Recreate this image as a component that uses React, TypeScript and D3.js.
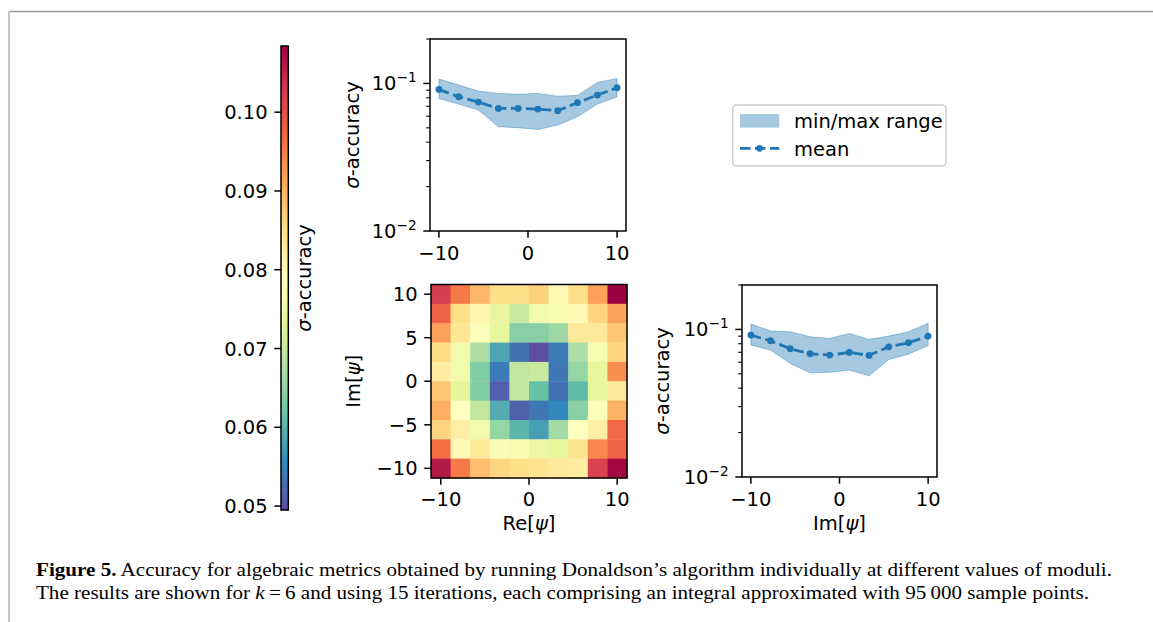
import * as d3 from 'd3';

// moduli grid used for both Re[psi] and Im[psi]
const psi = [-10, -7.78, -5.56, -3.33, -1.11, 1.11, 3.33, 5.56, 7.78, 10];

// sigma-accuracy against Re[psi] (top panel)
const reMean = [0.0911, 0.0812, 0.0747, 0.0677, 0.0677, 0.067, 0.0653, 0.074, 0.0834, 0.0935];
const reMax = [0.107, 0.0974, 0.0887, 0.0856, 0.0843, 0.0856, 0.082, 0.0829, 0.1016, 0.108];
const reMin = [0.0791, 0.0724, 0.066, 0.0509, 0.0501, 0.0488, 0.0522, 0.0595, 0.0724, 0.0812];

// sigma-accuracy against Im[psi] (bottom right panel)
const imMean = [0.0915, 0.0838, 0.074, 0.0684, 0.067, 0.0698, 0.0667, 0.0762, 0.0812, 0.0901];
const imMax = [0.1087, 0.0974, 0.0964, 0.0892, 0.0869, 0.0939, 0.0855, 0.0901, 0.0964, 0.11];
const imMin = [0.0783, 0.0724, 0.0588, 0.0508, 0.0513, 0.053, 0.0485, 0.0625, 0.068, 0.0779];

// heatmap rows, top row is Im = 10, bottom row is Im = -10; columns Re = -10 .. 10
const heatRows = [
  [0.1025, 0.0954, 0.0896, 0.0848, 0.0848, 0.0866, 0.0801, 0.0848, 0.0919, 0.1084],
  [0.0978, 0.0848, 0.0807, 0.0742, 0.0701, 0.076, 0.0766, 0.0801, 0.086, 0.0919],
  [0.0919, 0.0837, 0.0784, 0.0736, 0.0642, 0.0642, 0.066, 0.0831, 0.0831, 0.0878],
  [0.0854, 0.076, 0.0672, 0.0583, 0.053, 0.0495, 0.0542, 0.0672, 0.0766, 0.086],
  [0.0825, 0.076, 0.0636, 0.0542, 0.0695, 0.0701, 0.0536, 0.0654, 0.0736, 0.0937],
  [0.0878, 0.0731, 0.0636, 0.0513, 0.0695, 0.0613, 0.053, 0.0607, 0.0736, 0.0831],
  [0.0907, 0.079, 0.0695, 0.0589, 0.0513, 0.0536, 0.0554, 0.0642, 0.0784, 0.0901],
  [0.086, 0.0819, 0.076, 0.0654, 0.0601, 0.0577, 0.0666, 0.079, 0.0819, 0.0972],
  [0.0966, 0.0801, 0.0831, 0.0778, 0.0772, 0.0748, 0.0736, 0.0843, 0.0943, 0.0978],
  [0.106, 0.0954, 0.089, 0.086, 0.0848, 0.0843, 0.0831, 0.0825, 0.1019, 0.1078],
];

const colourRange = [0.0495, 0.1084];
const colourbarTicks = [0.05, 0.06, 0.07, 0.08, 0.09, 0.1];
const linearTicks = [-10, 0, 10];
const heatYTicks = [-10, -5, 0, 5, 10];
const logMajor = [0.01, 0.1];
const logMinor = [0.02, 0.03, 0.04, 0.05, 0.06, 0.07, 0.08, 0.09, 0.2];

const FONT = 'DejaVu Sans';
const FS = 19.5;
const BLUE = '#1f77b4';
const TICK = 6.7;

// matplotlib Spectral_r: linear through the brewer colours
const spectral = d3.schemeSpectral[11].slice().reverse();
const colour = d3.scaleLinear<string>()
  .domain(d3.range(11).map(i => colourRange[0] + (i / 10) * (colourRange[1] - colourRange[0])))
  .range(spectral)
  .interpolate(d3.interpolateRgb)
  .clamp(true);

const fmtMinus = (v: number) => (v < 0 ? '\u2212' + Math.abs(v) : String(v));

function LogLabel({ x, y, exp }: { x: number; y: number; exp: number }) {
  return (
    <text x={x} y={y + 7} textAnchor="end" fontSize={FS} fontFamily={FONT}>
      10
      <tspan fontSize={FS * 0.7} dy={-8}>{'\u2212' + Math.abs(exp)}</tspan>
    </text>
  );
}

function LinePanel({
  left, top, right, bottom, mean, lo, hi, yLabelX, xLabel,
}: {
  left: number; top: number; right: number; bottom: number;
  mean: number[]; lo: number[]; hi: number[];
  yLabelX: number; xLabel?: string;
}) {
  const x = d3.scaleLinear().domain([-11, 11]).range([left, right]);
  const y = d3.scaleLog().domain([0.01, 0.2]).range([bottom, top]);
  const idx = d3.range(psi.length);
  const area = d3.area<number>()
    .x(i => x(psi[i]))
    .y0(i => y(lo[i]))
    .y1(i => y(hi[i]));
  const line = d3.line<number>()
    .x(i => x(psi[i]))
    .y(i => y(mean[i]));

  return (
    <g>
      <path d={area(idx) || ''} fill={BLUE} fillOpacity={0.4} stroke={BLUE} strokeOpacity={0.4} strokeWidth={1} />
      <path d={line(idx) || ''} fill="none" stroke={BLUE} strokeWidth={2.8} strokeDasharray="10.5 4.5" />
      {idx.map(i => (
        <circle key={i} cx={x(psi[i])} cy={y(mean[i])} r={3.4} fill={BLUE} />
      ))}
      <rect x={left} y={top} width={right - left} height={bottom - top} fill="none" stroke="black" strokeWidth={1.5} />
      {linearTicks.map(t => (
        <g key={t}>
          <line x1={x(t)} x2={x(t)} y1={bottom} y2={bottom + TICK} stroke="black" strokeWidth={1.5} />
          <text x={x(t)} y={bottom + 29} textAnchor="middle" fontSize={FS} fontFamily={FONT}>{fmtMinus(t)}</text>
        </g>
      ))}
      {logMajor.map(t => (
        <g key={t}>
          <line x1={left - TICK} x2={left} y1={y(t)} y2={y(t)} stroke="black" strokeWidth={1.5} />
          <LogLabel x={left - 13.4} y={y(t)} exp={Math.round(Math.log10(t))} />
        </g>
      ))}
      {logMinor.map(t => (
        <line key={t} x1={left - 3.8} x2={left} y1={y(t)} y2={y(t)} stroke="black" strokeWidth={1.1} />
      ))}
      <text
        transform={`translate(${yLabelX},${(top + bottom) / 2}) rotate(-90)`}
        textAnchor="middle" fontSize={FS} fontFamily={FONT}
      >
        <tspan fontStyle="italic">σ</tspan>-accuracy
      </text>
      {xLabel && (
        <text x={(left + right) / 2} y={bottom + 53} textAnchor="middle" fontSize={FS} fontFamily={FONT}>
          {xLabel}[<tspan fontStyle="italic">ψ</tspan>]
        </text>
      )}
    </g>
  );
}

function Heatmap() {
  const left = 431, right = 627, top = 284.5, bottom = 478;
  const half = 10 / 9;
  const x = d3.scaleLinear().domain([-10 - half, 10 + half]).range([left, right]);
  const y = d3.scaleLinear().domain([-10 - half, 10 + half]).range([bottom, top]);
  const imDesc = psi.slice().reverse();
  return (
    <g>
      {heatRows.map((row, r) => row.map((v, c) => (
        <rect
          key={`${r}-${c}`}
          x={x(psi[c] - half)}
          y={y(imDesc[r] + half)}
          width={x(psi[c] + half) - x(psi[c] - half) + 0.4}
          height={y(imDesc[r] - half) - y(imDesc[r] + half) + 0.4}
          fill={colour(v)}
        />
      )))}
      <rect x={left} y={top} width={right - left} height={bottom - top} fill="none" stroke="black" strokeWidth={1.5} />
      {linearTicks.map(t => (
        <g key={t}>
          <line x1={x(t)} x2={x(t)} y1={bottom} y2={bottom + TICK} stroke="black" strokeWidth={1.5} />
          <text x={x(t)} y={bottom + 28} textAnchor="middle" fontSize={FS} fontFamily={FONT}>{fmtMinus(t)}</text>
        </g>
      ))}
      {heatYTicks.map(t => (
        <g key={t}>
          <line x1={left - TICK} x2={left} y1={y(t)} y2={y(t)} stroke="black" strokeWidth={1.5} />
          <text x={left - 13.4} y={y(t) + 7} textAnchor="end" fontSize={FS} fontFamily={FONT}>{fmtMinus(t)}</text>
        </g>
      ))}
      <text transform={`translate(360,${(top + bottom) / 2}) rotate(-90)`} textAnchor="middle" fontSize={FS} fontFamily={FONT}>
        Im[<tspan fontStyle="italic">ψ</tspan>]
      </text>
      <text x={(left + right) / 2} y={bottom + 52} textAnchor="middle" fontSize={FS} fontFamily={FONT}>
        Re[<tspan fontStyle="italic">ψ</tspan>]
      </text>
    </g>
  );
}

function Colourbar() {
  const left = 281, right = 288.3, top = 46, bottom = 510;
  const y = d3.scaleLinear().domain(colourRange).range([bottom, top]);
  const stops = d3.range(0, 1.0001, 0.05);
  return (
    <g>
      <defs>
        <linearGradient id="cbar" x1="0" x2="0" y1="1" y2="0">
          {stops.map(s => (
            <stop key={s} offset={`${s * 100}%`} stopColor={colour(colourRange[0] + s * (colourRange[1] - colourRange[0]))} />
          ))}
        </linearGradient>
      </defs>
      <rect x={left} y={top} width={right - left} height={bottom - top} fill="url(#cbar)" stroke="black" strokeWidth={1.5} />
      {colourbarTicks.map(t => (
        <g key={t}>
          <line x1={left - TICK} x2={left} y1={y(t)} y2={y(t)} stroke="black" strokeWidth={1.5} />
          <text x={left - 13.4} y={y(t) + 7} textAnchor="end" fontSize={FS} fontFamily={FONT}>{t.toFixed(2)}</text>
        </g>
      ))}
      <text transform={`translate(311,${(top + bottom) / 2}) rotate(-90)`} textAnchor="middle" fontSize={FS} fontFamily={FONT}>
        <tspan fontStyle="italic">σ</tspan>-accuracy
      </text>
    </g>
  );
}

function Legend() {
  return (
    <g fontFamily={FONT} fontSize={FS}>
      <rect x={732.7} y={105} width={213.3} height={61} rx={4} fill="white" fillOpacity={0.8} stroke="#cccccc" strokeWidth={1.5} />
      <rect x={740} y={114} width={39.3} height={13.7} fill={BLUE} fillOpacity={0.4} />
      <text x={794} y={127.5}>min/max range</text>
      <line x1={740} x2={779.3} y1={148.3} y2={148.3} stroke={BLUE} strokeWidth={2.8} strokeDasharray="10.5 4.5" />
      <circle cx={759.6} cy={148.3} r={3.4} fill={BLUE} />
      <text x={794} y={155.5}>mean</text>
    </g>
  );
}

export default function App() {
  return (
    <svg
      width={1153}
      height={622}
      style={{ position: 'absolute', left: 0, top: 0, background: 'white' }}
    >
      <line x1={9} x2={1153} y1={11.5} y2={11.5} stroke="#9a9a9a" strokeWidth={1.3} />
      <line x1={9} x2={9} y1={11} y2={622} stroke="#c6c6c6" strokeWidth={2} />

      <Colourbar />
      <LinePanel left={430} top={39} right={626} bottom={231} mean={reMean} lo={reMin} hi={reMax} yLabelX={359} />
      <Heatmap />
      <LinePanel left={742} top={285} right={937} bottom={477} mean={imMean} lo={imMin} hi={imMax} yLabelX={669} xLabel="Im" />
      <Legend />

      <g fontFamily="Liberation Serif" fontSize={19.5}>
        <text x={36} y={576} textLength={1076} lengthAdjust="spacingAndGlyphs">
          <tspan fontWeight="bold">Figure 5.</tspan> Accuracy for algebraic metrics obtained by running Donaldson’s algorithm individually at different values of moduli.
        </text>
        <text x={36} y={599} textLength={1053} lengthAdjust="spacingAndGlyphs">
          The results are shown for <tspan fontStyle="italic">k</tspan>{'\u2009=\u20096'} and using 15 iterations, each comprising an integral approximated with 95{'\u2009'}000 sample points.
        </text>
      </g>
    </svg>
  );
}
